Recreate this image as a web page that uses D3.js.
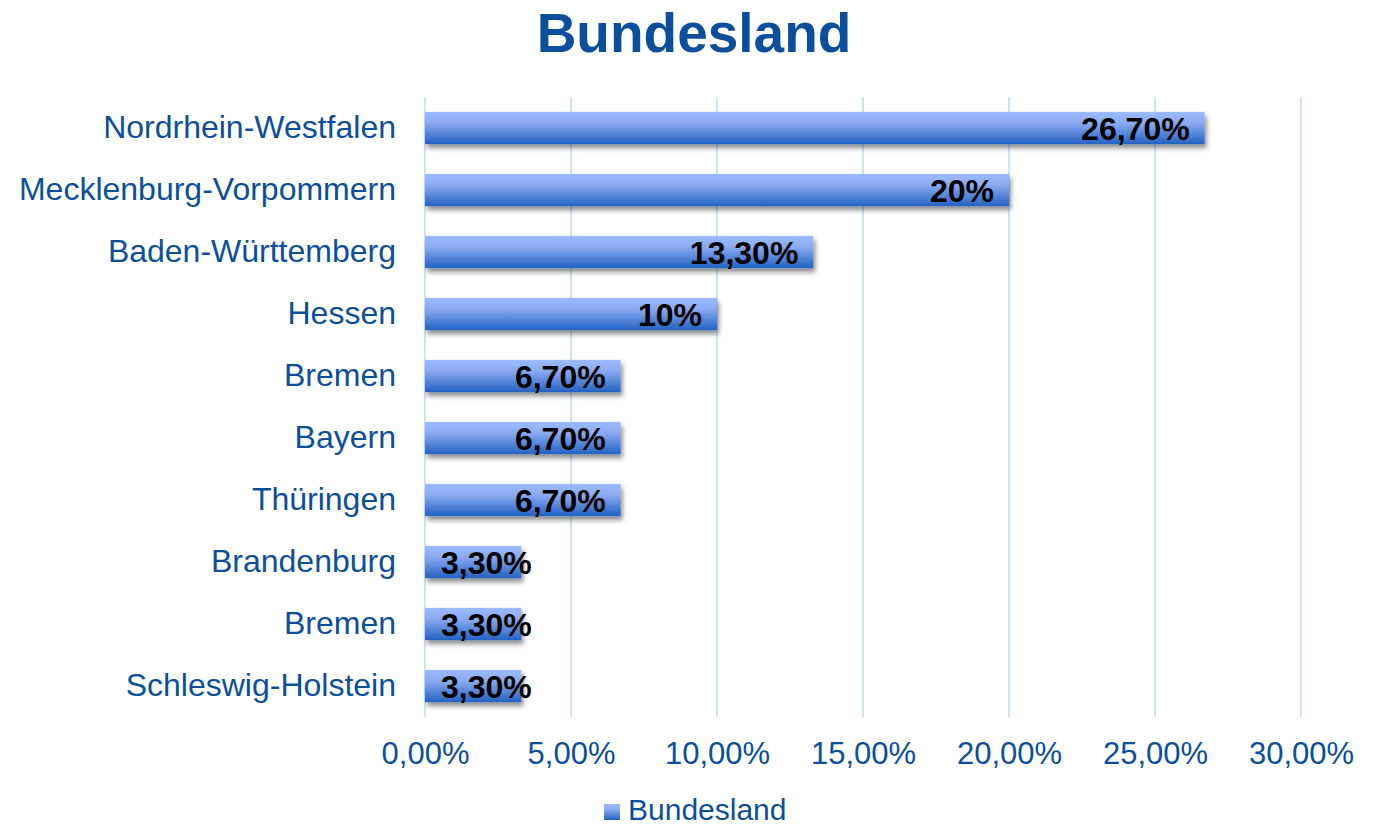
<!DOCTYPE html>
<html>
<head>
<meta charset="utf-8">
<script src="https://cdn.jsdelivr.net/npm/d3@7"></script>
<style>
  body { margin: 0; background: #fff; }
  text { font-family: "Liberation Sans", Arial, sans-serif; }
</style>
</head>
<body>
<div class="canvas"></div>
<script>
// data
var categories = ["Nordrhein-Westfalen", "Mecklenburg-Vorpommern", "Baden-Württemberg", "Hessen",
  "Bremen", "Bayern", "Thüringen", "Brandenburg", "Bremen", "Schleswig-Holstein"];
var values = [26.7, 20, 13.3, 10, 6.7, 6.7, 6.7, 3.3, 3.3, 3.3];
var valueLabels = ["26,70%", "20%", "13,30%", "10%", "6,70%", "6,70%", "6,70%", "3,30%", "3,30%", "3,30%"];
var ticks = [0, 5, 10, 15, 20, 25, 30];
var seriesName = "Bundesland";

var width = 1383, height = 826;
var margin = {top: 97, right: 82, bottom: 109, left: 425};

var svg = d3.select('.canvas').append('svg')
  .attr('width', width).attr('height', height);

var defs = svg.append('defs');
var grad = defs.append('linearGradient')
  .attr('id', 'barGrad').attr('x1', 0).attr('y1', 0).attr('x2', 0).attr('y2', 1);
grad.append('stop').attr('offset', '0%').attr('stop-color', '#9dbcff');
grad.append('stop').attr('offset', '35%').attr('stop-color', '#8aa9f0');
grad.append('stop').attr('offset', '100%').attr('stop-color', '#2262c2');

var shadow = defs.append('filter').attr('id', 'shadow')
  .attr('x', '-5%').attr('y', '-20%').attr('width', '115%').attr('height', '160%');
shadow.append('feGaussianBlur').attr('in', 'SourceAlpha').attr('stdDeviation', 2.5);
shadow.append('feOffset').attr('dx', 2).attr('dy', 4).attr('result', 'blur');
shadow.append('feComponentTransfer').append('feFuncA').attr('type', 'linear').attr('slope', 0.45);
var merge = shadow.append('feMerge');
merge.append('feMergeNode');
merge.append('feMergeNode').attr('in', 'SourceGraphic');

var x = d3.scaleLinear()
  .domain([0, 30])
  .range([margin.left, width - margin.right]);

var y = d3.scaleBand()
  .domain(d3.range(categories.length))
  .range([margin.top, height - margin.bottom])
  .paddingInner(0.48)
  .paddingOuter(0.24);

// title
svg.append('text')
  .attr('x', 694).attr('y', 52)
  .attr('text-anchor', 'middle')
  .attr('fill', '#0b4f9c')
  .style('font-size', '55px').style('font-weight', 'bold')
  .text('Bundesland');

// gridlines
svg.append('g').selectAll('line')
  .data(ticks)
  .enter().append('line')
  .attr('x1', d => x(d)).attr('x2', d => x(d))
  .attr('y1', margin.top).attr('y2', height - margin.bottom)
  .attr('stroke', '#cfe2fb').attr('stroke-width', 2);

// x axis
var xAxis = d3.axisBottom(x)
  .tickValues(ticks)
  .tickSize(0)
  .tickPadding(25)
  .tickFormat(d => d3.format('.2f')(d).replace('.', ',') + '%');

var gx = svg.append('g')
  .attr('transform', 'translate(0,' + (height - margin.bottom) + ')')
  .call(xAxis);
gx.select('.domain').remove();
gx.selectAll('text')
  .attr('fill', '#0b4f9c')
  .style('font-size', '31px')
  .style('font-family', '"Liberation Sans", Arial, sans-serif');

// y axis
var yAxis = d3.axisLeft(y)
  .tickSize(0)
  .tickPadding(29)
  .tickFormat(i => categories[i]);

var gy = svg.append('g')
  .attr('transform', 'translate(' + margin.left + ',0)')
  .call(yAxis);
gy.select('.domain').remove();
gy.selectAll('text')
  .attr('fill', '#0b4f9c')
  .attr('dy', '0.3em')
  .style('font-size', '32px')
  .style('font-family', '"Liberation Sans", Arial, sans-serif');

// bars
svg.append('g').selectAll('rect')
  .data(values)
  .enter().append('rect')
  .attr('x', x(0))
  .attr('y', (d, i) => y(i))
  .attr('width', d => x(d) - x(0))
  .attr('height', y.bandwidth())
  .attr('fill', 'url(#barGrad)')
  .attr('filter', 'url(#shadow)');

// value labels
var labels = svg.append('g').selectAll('text')
  .data(values)
  .enter().append('text')
  .attr('y', (d, i) => y(i) + y.bandwidth() / 2)
  .attr('dy', '0.37em')
  .attr('text-anchor', 'end')
  .attr('fill', '#000')
  .style('font-size', '32px').style('font-weight', 'bold')
  .text((d, i) => valueLabels[i]);

labels.attr('x', function (d) {
  var w = this.getComputedTextLength();
  return Math.max(x(d) - 15, x(0) + 16 + w);
});

// legend
var legend = svg.append('g');
legend.append('rect')
  .attr('x', 604).attr('y', 804).attr('width', 16).attr('height', 16)
  .attr('fill', 'url(#barGrad)');
legend.append('text')
  .attr('x', 628).attr('y', 820)
  .attr('fill', '#0b4f9c')
  .style('font-size', '30px')
  .text(seriesName);
</script>
</body>
</html>
